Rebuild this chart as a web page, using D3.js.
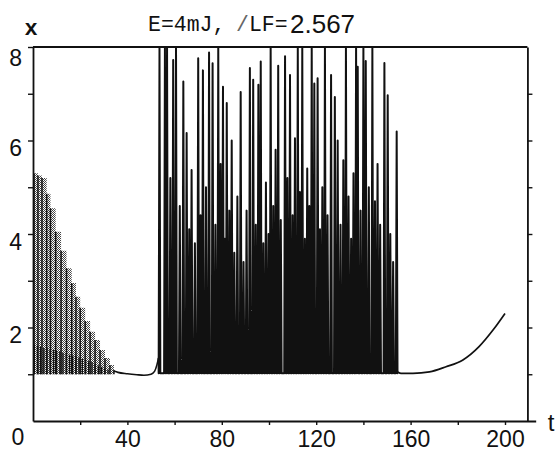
<!DOCTYPE html>
<html>
<head>
<meta charset="utf-8">
<script src="https://cdn.jsdelivr.net/npm/d3@7"></script>
<style>
  body { margin: 0; background: #fff; }
  svg { display: block; }
  .tick text { font-family: "Liberation Sans", Arial, sans-serif; font-size: 23px; fill: #111; }
</style>
</head>
<body>
<svg width="558" height="455"></svg>
<script>
// --- data ---
// tall spikes of the decaying transient (t, x)
var transientT    = [0.4, 2.1, 3.8, 5.8, 7.4, 9.6, 11.9, 14.2, 16.4, 18.2, 20.0, 22.1, 24.2, 26.3, 28.4, 30.5, 32.6, 34.3];
var transientPeak = [5.3, 5.25, 5.2, 4.86, 4.55, 4.05, 3.64, 3.27, 2.95, 2.66, 2.42, 2.14, 1.91, 1.73, 1.52, 1.35, 1.2, 1.09];
// short black bars at the foot of the transient
var lowT    = [0.5, 1.9, 3.2, 4.6, 5.9, 7.3, 8.7, 10.0, 11.4, 12.7, 14.1, 15.5, 16.8, 18.2, 19.5, 20.9, 22.3, 23.6, 25.0, 26.3, 27.7, 29.1, 30.4, 31.8];
var lowPeak = [1.62, 1.6, 1.59, 1.56, 1.56, 1.53, 1.52, 1.5, 1.49, 1.46, 1.45, 1.42, 1.4, 1.39, 1.36, 1.33, 1.31, 1.28, 1.26, 1.22, 1.19, 1.16, 1.13, 1.1];
// quiet stretch before the chaotic bursts
var quietAT = [34.3, 36, 40, 44, 47, 50, 51.5, 52.5, 53.2];
var quietAX = [1.07, 1.04, 1.01, 0.99, 0.98, 1.0, 1.06, 1.2, 1.35];
// chaotic spikes
var chaosT = [53.6, 55.9, 56.8, 58.2, 59.4, 60.6, 62.2, 63.7, 65.1, 66.2, 67.2, 68.6, 70.0, 71.0, 72.0, 73.3, 74.6, 76.1, 77.3, 78.5,
              79.5, 80.5, 81.3, 82.1, 83.2, 84.2, 85.3, 86.6, 88.0, 89.2, 90.5, 91.9, 93.3, 94.4, 95.5, 96.5, 97.6, 98.7, 99.8, 100.7,
              101.8, 102.8, 103.9, 105.0, 106.8, 107.8, 108.9, 110.0, 111.0, 112.2, 113.1, 114.1, 115.2, 116.2, 117.1, 118.1, 119.2, 120.6,
              121.6, 122.6, 123.7, 124.8, 126.3, 127.9, 129.1, 130.3, 131.5, 132.6, 133.7, 134.8, 135.8, 136.9, 137.6, 138.8, 140.0,
              141.0, 142.3, 143.8, 144.9, 146.0, 147.1, 148.9, 150.3, 151.4, 152.6, 154.1];
var chaosPeak = [8, 8, 8, 5.2, 7.72, 8, 4.6, 7.26, 6.16, 4.1, 5.37, 3.8, 7.76, 4.4, 7.5, 5.0, 7.88, 7.65, 4.2, 8,
                 5.5, 7.15, 3.9, 6.8, 4.5, 6.0, 3.6, 4.8, 7.04, 3.4, 4.5, 7.55, 7.3, 4.2, 7.19, 7.69, 3.8, 5.1, 4.0, 8,
                 4.6, 5.8, 7.6, 4.3, 7.8, 5.2, 7.4, 4.4, 6.05, 8, 4.9, 8, 3.9, 5.4, 4.6, 8, 7.22, 7.33,
                 4.1, 5.0, 8, 4.4, 7.4, 6.93, 6.0, 4.2, 5.58, 8, 4.8, 3.9, 5.3, 8, 7.58, 4.5, 8,
                 7.7, 5.0, 8, 4.7, 5.5, 4.2, 7.66, 6.97, 4.0, 3.4, 6.19];
var chaosFloor = 1.02;
// slow recovery after the bursts
var quietBT = [154.6, 156, 161, 168, 175, 182, 189, 195, 200];
var quietBX = [1.05, 1.02, 1.02, 1.05, 1.16, 1.3, 1.59, 1.95, 2.3];

var tTicks  = [20, 40, 60, 80, 100, 120, 140, 160, 180, 200];
var tLabels = [40, 80, 120, 160, 200];
var xTicks  = [1, 2, 3, 4, 5, 6, 7, 8];
var xLabels = [2, 4, 6, 8];

// --- chart ---
var svg = d3.select("svg");

var x = d3.scaleLinear().domain([0, 200]).range([33, 505]);
var y = d3.scaleLinear().domain([0, 8]).range([421, 47]);
var tRight = 209.5, tEnd = 213;

var defs = svg.append("defs");
defs.append("clipPath").attr("id", "plot")
    .append("rect")
    .attr("x", x(0)).attr("y", y(8))
    .attr("width", x(tRight) - x(0)).attr("height", y(0) - y(8));

// stipple for the dense, greyish transient
var pat = defs.append("pattern").attr("id", "stipple")
    .attr("width", 4).attr("height", 4).attr("patternUnits", "userSpaceOnUse");
[[0, 0], [2, 0], [1, 1], [3, 1], [0, 2], [2, 2], [1, 3], [3, 3]].forEach(function (p) {
    pat.append("rect").attr("x", p[0]).attr("y", p[1]).attr("width", 1).attr("height", 1).attr("fill", "#444");
});

var g = svg.append("g").attr("clip-path", "url(#plot)");

var px = function (d) { return x(d[0]); },
    py = function (d) { return y(d[1]); };

// transient: stepped envelope filled with stipple
var envelope = transientT.map(function (t, i) { return [t, transientPeak[i]]; });
envelope.push([quietAT[0], quietAX[0]]);
g.append("path")
    .datum(envelope)
    .attr("fill", "url(#stipple)")
    .attr("d", d3.area()
        .curve(d3.curveStepAfter)
        .x(px)
        .y0(y(1))
        .y1(py));

// transient tall spikes
g.selectAll(".tspike")
    .data(transientT)
    .enter().append("line")
    .attr("class", "tspike")
    .attr("x1", function (d) { return x(d); })
    .attr("x2", function (d) { return x(d); })
    .attr("y1", y(1))
    .attr("y2", function (d, i) { return y(transientPeak[i]); })
    .attr("stroke", "#111")
    .attr("stroke-width", 1.5);

// short black bars at the foot
g.selectAll(".lbar")
    .data(lowT)
    .enter().append("line")
    .attr("class", "lbar")
    .attr("x1", function (d) { return x(d); })
    .attr("x2", function (d) { return x(d); })
    .attr("y1", y(1))
    .attr("y2", function (d, i) { return y(lowPeak[i]); })
    .attr("stroke", "#111")
    .attr("stroke-width", 1.4);

var smooth = d3.line().curve(d3.curveMonotoneX).x(px).y(py);

// quiet stretch before the bursts
var quietA = quietAT.map(function (t, i) { return [t, quietAX[i]]; });
g.append("path")
    .datum(quietA)
    .attr("fill", "none")
    .attr("stroke", "#111")
    .attr("stroke-width", 1.6)
    .attr("d", smooth);

// chaotic spikes
var chaos = [quietA[quietA.length - 1]];
chaosT.forEach(function (t, i) {
    chaos.push([t - 0.35, chaosFloor], [t, chaosPeak[i]], [t + 0.35, chaosFloor]);
});
chaos.push([quietBT[0], quietBX[0]]);
g.append("path")
    .datum(chaos)
    .attr("fill", "none")
    .attr("stroke", "#111")
    .attr("stroke-width", 2.0)
    .attr("stroke-linejoin", "round")
    .attr("d", d3.line().x(px).y(py));

// recovery
g.append("path")
    .datum(quietBT.map(function (t, i) { return [t, quietBX[i]]; }))
    .attr("fill", "none")
    .attr("stroke", "#111")
    .attr("stroke-width", 1.7)
    .attr("d", smooth);

// --- axes and frame ---
var leftAxis = svg.append("g")
    .attr("transform", "translate(" + x(0) + ",0)")
    .call(d3.axisLeft(y)
        .tickValues(xTicks)
        .tickSize(5)
        .tickSizeOuter(0)
        .tickPadding(6)
        .tickFormat(function (d) { return xLabels.indexOf(d) >= 0 ? d : ""; }));
leftAxis.selectAll("text").attr("y", function (d) { return d === 8 ? 11 : 8; });

svg.append("g")
    .attr("transform", "translate(" + x(tRight) + ",0)")
    .call(d3.axisRight(y)
        .tickValues(xTicks.slice(0, 7))
        .tickSize(5)
        .tickSizeOuter(0)
        .tickFormat(""));

svg.append("g")
    .attr("transform", "translate(0," + y(0) + ")")
    .call(d3.axisBottom(x.copy().domain([0, tEnd]).range([x(0), x(tEnd)]))
        .tickValues(tTicks)
        .tickSize(4)
        .tickSizeOuter(0)
        .tickPadding(6)
        .tickFormat(function (d) { return tLabels.indexOf(d) >= 0 ? d : ""; }));

svg.selectAll(".domain").attr("stroke", "#111").attr("stroke-width", 1.8);
svg.selectAll(".tick line").attr("stroke", "#111").attr("stroke-width", 1.4);

// top edge of the frame
svg.append("line")
    .attr("x1", x(0)).attr("x2", x(tRight))
    .attr("y1", y(8)).attr("y2", y(8))
    .attr("stroke", "#111").attr("stroke-width", 2);

// origin label
svg.append("text")
    .attr("x", 18).attr("y", 445)
    .attr("text-anchor", "middle")
    .style("font-family", "Liberation Sans, Arial, sans-serif")
    .style("font-size", "23px")
    .attr("fill", "#111")
    .text("0");

// axis names
svg.append("text")
    .attr("x", 31).attr("y", 35)
    .attr("text-anchor", "middle")
    .style("font-family", "Liberation Mono, monospace")
    .style("font-size", "22px")
    .style("font-weight", "bold")
    .attr("fill", "#111")
    .text("x");

svg.append("text")
    .attr("x", 551).attr("y", 431)
    .attr("text-anchor", "middle")
    .style("font-family", "Liberation Sans, Arial, sans-serif")
    .style("font-size", "24px")
    .attr("fill", "#111")
    .text("t");

// title
var title = svg.append("text")
    .attr("x", 148).attr("y", 31)
    .style("font-family", "Liberation Mono, monospace")
    .style("font-size", "21.5px")
    .attr("fill", "#111");
title.append("tspan").text("E=4mJ,");
title.append("tspan").attr("x", 236).attr("fill", "#666").text("/");
title.append("tspan").text("LF=");
title.append("tspan")
    .attr("x", 290).attr("y", 33)
    .style("font-family", "Liberation Sans, Arial, sans-serif")
    .style("font-size", "26px")
    .text("2.567");
</script>
</body>
</html>
